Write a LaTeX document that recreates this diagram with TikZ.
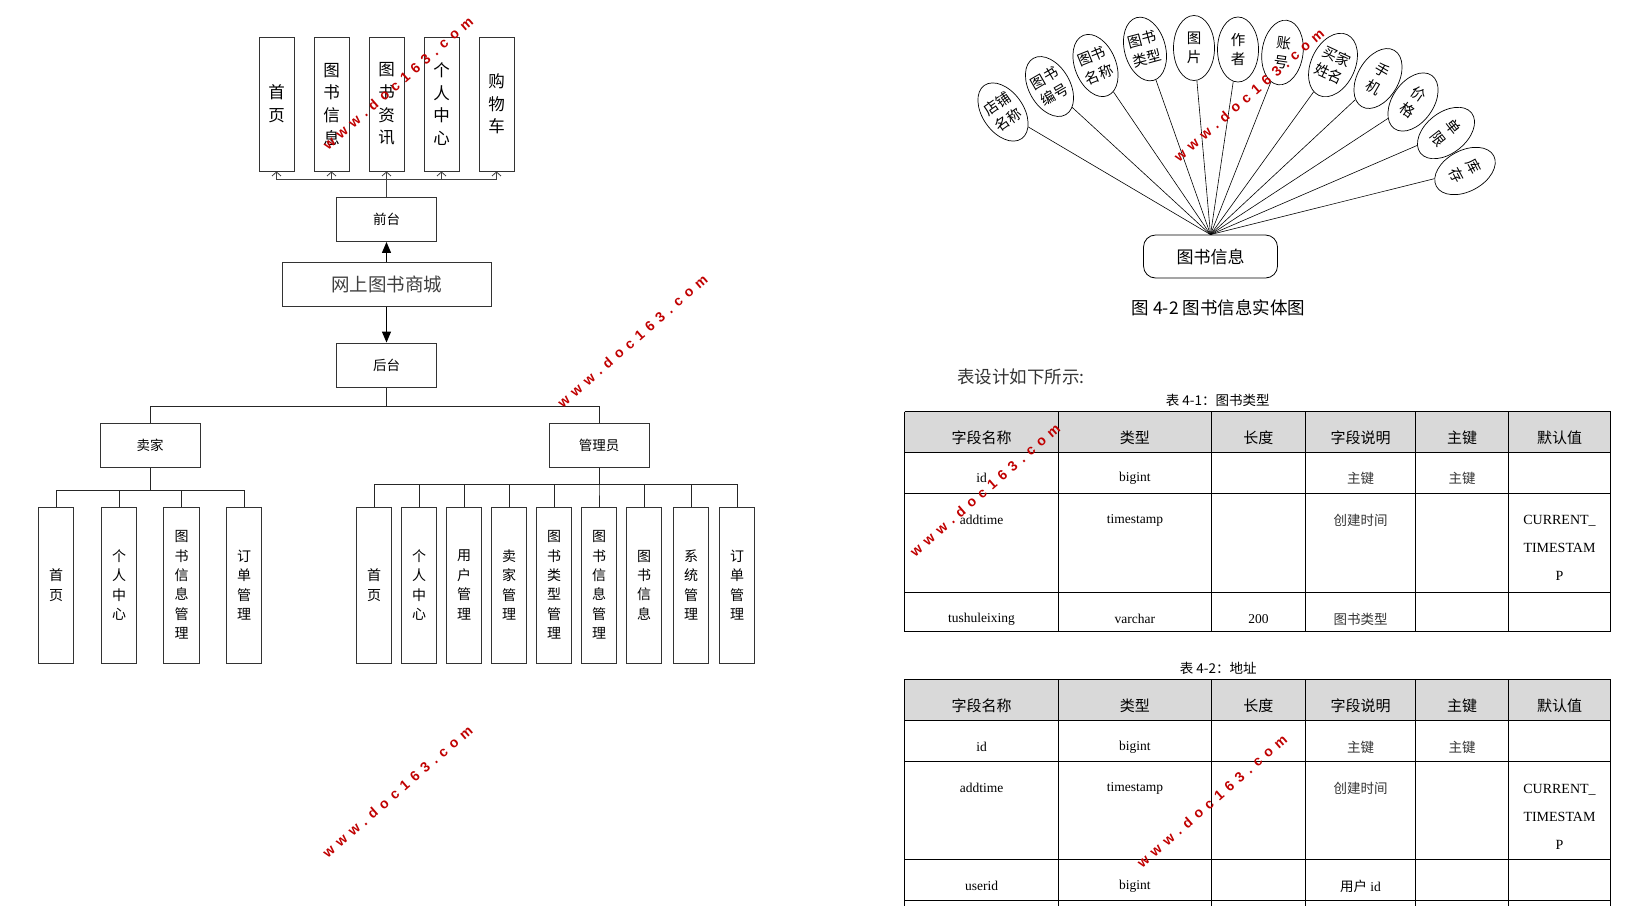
\documentclass[tikz,border=0pt]{standalone}
\usepackage{fontspec}
\setmainfont{Liberation Serif}
\newfontfamily\cjk{Noto Sans CJK SC}
\newfontfamily\wmfont[LetterSpace=42]{Liberation Sans}
\usetikzlibrary{shapes.geometric,arrows.meta}
\pgfdeclarelayer{edgelayer}
\pgfdeclarelayer{nodelayer}
\pgfsetlayers{edgelayer,nodelayer,main}
\definecolor{wmred}{RGB}{192,0,0}
\definecolor{headgray}{RGB}{217,217,217}
\newcommand{\pxsize}[2]{\fontsize{#1}{#2}\selectfont}
\tikzstyle{edge}=[draw=black!85, line width=0.8pt]
\tikzstyle{baredge}=[draw=black!75, line width=0.8pt, -{Straight Barb[length=4pt,width=9pt]}]
\tikzstyle{mainedge}=[draw=black, line width=1.2pt, -{Triangle[length=11pt,width=9pt]}]
\tikzstyle{tallbox}=[rectangle, draw=black!80, fill=white, line width=0.9pt, minimum width=35pt, minimum height=134pt, inner sep=0pt, align=center, font=\cjk\pxsize{16.5}{22.7}]
\tikzstyle{menubox}=[rectangle, draw=black!80, fill=white, line width=0.9pt, minimum width=100pt, minimum height=44pt, inner sep=0pt, font=\cjk\pxsize{13.5}{16}]
\tikzstyle{leafbox}=[rectangle, draw=black!80, fill=white, line width=0.9pt, minimum width=35.5pt, minimum height=156pt, inner sep=0pt, align=center, font=\cjk\pxsize{14}{19.4}]
\tikzstyle{attr}=[ellipse, draw=black, fill=white, line width=0.7pt, minimum width=41pt, minimum height=65pt, inner sep=0pt, align=center, font=\cjk\pxsize{14.5}{19.5}]
\tikzstyle{entity}=[rectangle, rounded corners=12pt, draw=black, fill=white, line width=0.8pt, minimum width=134pt, minimum height=43pt, font=\cjk\pxsize{17}{20}]
\tikzstyle{spoke}=[draw=black, line width=0.6pt]
\tikzstyle{grid}=[draw=black, line width=0.8pt]
\tikzstyle{headcell}=[inner sep=0pt, font=\cjk\pxsize{15}{18}]
\tikzstyle{cell}=[inner sep=0pt, font=\pxsize{13.5}{16}]
\tikzstyle{cjkcell}=[inner sep=0pt, text=black!80, font=\cjk\pxsize{13.5}{16}]
\tikzstyle{tabcaption}=[inner sep=0pt, font=\cjk\pxsize{13.5}{16}]
\tikzstyle{wmtext}=[inner sep=0pt, text=wmred, rotate=41, font=\wmfont\bfseries\pxsize{14}{16}]

\begin{document}
\begin{tikzpicture}[x=1pt, y=-1pt]
	\useasboundingbox (0,0) rectangle (1642,906);
	\begin{pgfonlayer}{nodelayer}
		% front and back of the shop
		\node [style=tallbox] (t1) at (276.5,104) {首\\页};
		\node [style=tallbox] (t2) at (331.5,104) {图\\书\\信\\息};
		\node [style=tallbox] (t3) at (386.5,104) {图\\书\\资\\讯};
		\node [style=tallbox] (t4) at (441.5,104) {个\\人\\中\\心};
		\node [style=tallbox] (t5) at (496.5,104) {购\\物\\车};
		\node [style=menubox] (front) at (386.5,219.5) {前台};
		\node [style=menubox, minimum width=209pt, text=black!75, font=\cjk\pxsize{18.5}{22}] (mall) at (386.5,284.5) {网上图书商城};
		\node [style=menubox] (back) at (386.5,365) {后台};
		\node [style=menubox] (seller) at (150,445) {卖家};
		\node [style=menubox] (admin) at (599,445) {管理员};
		\node [style=leafbox] (s1) at (56,585) {首\\页};
		\node [style=leafbox] (s2) at (119,585) {个\\人\\中\\心};
		\node [style=leafbox] (s3) at (181.5,585) {图\\书\\信\\息\\管\\理};
		\node [style=leafbox] (s4) at (244,585) {订\\单\\管\\理};
		\node [style=leafbox] (a1) at (374,585) {首\\页};
		\node [style=leafbox] (a2) at (419,585) {个\\人\\中\\心};
		\node [style=leafbox] (a3) at (464,585) {用\\户\\管\\理};
		\node [style=leafbox] (a4) at (509,585) {卖\\家\\管\\理};
		\node [style=leafbox] (a5) at (554,585) {图\\书\\类\\型\\管\\理};
		\node [style=leafbox] (a6) at (599,585) {图\\书\\信\\息\\管\\理};
		\node [style=leafbox] (a7) at (644,585) {图\\书\\信\\息};
		\node [style=leafbox] (a8) at (691,585) {系\\统\\管\\理};
		\node [style=leafbox] (a9) at (737,585) {订\\单\\管\\理};
		% entity with its attributes
		\node [style=entity] (info) at (1210.5,256.5) {图书信息};
		\node [style=attr, rotate=35] (e1) at (1003,112) {店铺\\名称};
		\node [style=attr, rotate=30] (e2) at (1049.5,86.5) {图书\\编号};
		\node [style=attr, rotate=22] (e3) at (1095.5,65.5) {图书\\名称};
		\node [style=attr, rotate=15] (e4) at (1145,49) {图书\\类型};
		\node [style=attr] (e5) at (1194,48) {图\\片};
		\node [style=attr] (e6) at (1238,49.5) {作\\者};
		\node [style=attr, rotate=-8] (e7) at (1282.5,52.5) {账\\号};
		\node [style=attr, rotate=-25, minimum width=44pt, minimum height=67pt] (e8) at (1333,65) {买家\\姓名};
		\node [style=attr, rotate=-30] (e9) at (1378,78.5) {手\\机};
		\node [style=attr, rotate=-35] (e10) at (1413,102) {价\\格};
		\node [style=attr, rotate=-52] (e11) at (1446,133) {单\\限};
		\node [style=attr, rotate=-62] (e12) at (1465,171) {库\\存};
	\end{pgfonlayer}
	\begin{pgfonlayer}{edgelayer}
		\draw [style=baredge] (front.north) -- ++(0,-18) -| (t1.south);
		\draw [style=baredge] (front.north) -- ++(0,-18) -| (t2.south);
		\draw [style=baredge] (front.north) -- ++(0,-18) -| (t3.south);
		\draw [style=baredge] (front.north) -- ++(0,-18) -| (t4.south);
		\draw [style=baredge] (front.north) -- ++(0,-18) -| (t5.south);
		\draw [style=mainedge] (mall.north) to (front.south);
		\draw [style=mainedge] (mall.south) to (back.north);
		\draw [style=edge] (back.south) -- ++(0,19) -| (seller.north);
		\draw [style=edge] (back.south) -- ++(0,19) -| (admin.north);
		\draw [style=edge] (seller.south) -- ++(0,23) -| (s1.north);
		\draw [style=edge] (seller.south) -- ++(0,23) -| (s2.north);
		\draw [style=edge] (seller.south) -- ++(0,23) -| (s3.north);
		\draw [style=edge] (seller.south) -- ++(0,23) -| (s4.north);
		\draw [style=edge] (admin.south) -- ++(0,17) -| (a1.north);
		\draw [style=edge] (admin.south) -- ++(0,17) -| (a2.north);
		\draw [style=edge] (admin.south) -- ++(0,17) -| (a3.north);
		\draw [style=edge] (admin.south) -- ++(0,17) -| (a4.north);
		\draw [style=edge] (admin.south) -- ++(0,17) -| (a5.north);
		\draw [style=edge] (admin.south) -- ++(0,17) -| (a6.north);
		\draw [style=edge] (admin.south) -- ++(0,17) -| (a7.north);
		\draw [style=edge] (admin.south) -- ++(0,17) -| (a8.north);
		\draw [style=edge] (admin.south) -- ++(0,17) -| (a9.north);
		\draw [style=spoke] (info.north) to (e1);
		\draw [style=spoke] (info.north) to (e2);
		\draw [style=spoke] (info.north) to (e3);
		\draw [style=spoke] (info.north) to (e4);
		\draw [style=spoke] (info.north) to (e5);
		\draw [style=spoke] (info.north) to (e6);
		\draw [style=spoke] (info.north) to (e7);
		\draw [style=spoke] (info.north) to (e8);
		\draw [style=spoke] (info.north) to (e9);
		\draw [style=spoke] (info.north) to (e10);
		\draw [style=spoke] (info.north) to (e11);
		\draw [style=spoke] (info.north) to (e12);
	\end{pgfonlayer}
	\node [style=tabcaption, font=\cjk\pxsize{17.5}{20}] (fig) at (1218.5,308) {图 4-2 图书信息实体图};
	\node [style=tabcaption, anchor=west, font=\cjk\pxsize{17.5}{20}, text=black!80] (intro) at (957,376.7) {表设计如下所示:};
	% table 4-1
	\node [style=tabcaption] (cap1) at (1217.7,400.7) {表 4-1：图书类型};
	\fill [headgray] (904.6,411.7) rectangle (1610.7,452.3);
	\draw [style=grid] (904.6,411.7) -- (1610.7,411.7) (904.6,452.3) -- (1610.7,452.3)
		(904.6,493.3) -- (1610.7,493.3) (904.6,592.3) -- (1610.7,592.3) (904.6,631.7) -- (1610.7,631.7)
		(904.6,411.7) -- (904.6,631.7) (1058.4,411.7) -- (1058.4,631.7) (1211.3,411.7) -- (1211.3,631.7)
		(1305.4,411.7) -- (1305.4,631.7) (1415.6,411.7) -- (1415.6,631.7) (1508.4,411.7) -- (1508.4,631.7)
		(1610.7,411.7) -- (1610.7,631.7);
	\node [style=headcell] (h11) at (981.5,437.5) {字段名称};
	\node [style=headcell] (h12) at (1134.9,437.5) {类型};
	\node [style=headcell] (h13) at (1258.4,437.5) {长度};
	\node [style=headcell] (h14) at (1360.5,437.5) {字段说明};
	\node [style=headcell] (h15) at (1462,437.5) {主键};
	\node [style=headcell] (h16) at (1559.5,437.5) {默认值};
	\node [style=cell] (r11) at (981.5,478) {id};
	\node [style=cell] (r12) at (1134.9,478) {bigint};
	\node [style=cjkcell] (r14) at (1360.5,478) {主键};
	\node [style=cjkcell] (r15) at (1462,478) {主键};
	\node [style=cell] (r21) at (981.5,520) {addtime};
	\node [style=cell] (r22) at (1134.9,520) {timestamp};
	\node [style=cjkcell] (r24) at (1360.5,520) {创建时间};
	\node [style=cell, align=center, font=\pxsize{14}{28}] (r26) at (1559.5,548) {CURRENT\_\\TIMESTAM\\P};
	\node [style=cell] (r31) at (981.5,619) {tushuleixing};
	\node [style=cell] (r32) at (1134.9,619) {varchar};
	\node [style=cell] (r33) at (1258.4,619) {200};
	\node [style=cjkcell] (r34) at (1360.5,619) {图书类型};
	% table 4-2
	\node [style=tabcaption] (cap2) at (1218.2,668.3) {表 4-2：地址};
	\fill [headgray] (904.6,679.3) rectangle (1610.7,720);
	\draw [style=grid] (904.6,679.3) -- (1610.7,679.3) (904.6,720) -- (1610.7,720)
		(904.6,761) -- (1610.7,761) (904.6,859.3) -- (1610.7,859.3) (904.6,900) -- (1610.7,900)
		(904.6,679.3) -- (904.6,906) (1058.4,679.3) -- (1058.4,906) (1211.3,679.3) -- (1211.3,906)
		(1305.4,679.3) -- (1305.4,906) (1415.6,679.3) -- (1415.6,906) (1508.4,679.3) -- (1508.4,906)
		(1610.7,679.3) -- (1610.7,906);
	\node [style=headcell] (h21) at (981.5,706) {字段名称};
	\node [style=headcell] (h22) at (1134.9,706) {类型};
	\node [style=headcell] (h23) at (1258.4,706) {长度};
	\node [style=headcell] (h24) at (1360.5,706) {字段说明};
	\node [style=headcell] (h25) at (1462,706) {主键};
	\node [style=headcell] (h26) at (1559.5,706) {默认值};
	\node [style=cell] (q11) at (981.5,747) {id};
	\node [style=cell] (q12) at (1134.9,747) {bigint};
	\node [style=cjkcell] (q14) at (1360.5,747) {主键};
	\node [style=cjkcell] (q15) at (1462,747) {主键};
	\node [style=cell] (q21) at (981.5,788) {addtime};
	\node [style=cell] (q22) at (1134.9,788) {timestamp};
	\node [style=cjkcell] (q24) at (1360.5,788) {创建时间};
	\node [style=cell, align=center, font=\pxsize{14}{28}] (q26) at (1559.5,816.5) {CURRENT\_\\TIMESTAM\\P};
	\node [style=cell] (q31) at (981.5,886) {userid};
	\node [style=cell] (q32) at (1134.9,886) {bigint};
	\node [style=cell] (q34) at (1360.5,886) {{\cjk 用户} id};
	% watermarks
	\node [style=wmtext] (w1) at (398,83) {www.doc163.com};
	\node [style=wmtext] (w2) at (632.5,341) {www.doc163.com};
	\node [style=wmtext] (w3) at (397.5,791.5) {www.doc163.com};
	\node [style=wmtext] (w4) at (1249,95) {www.doc163.com};
	\node [style=wmtext] (w5) at (985,490) {www.doc163.com};
	\node [style=wmtext] (w6) at (1212,801) {www.doc163.com};
\end{tikzpicture}
\end{document}
